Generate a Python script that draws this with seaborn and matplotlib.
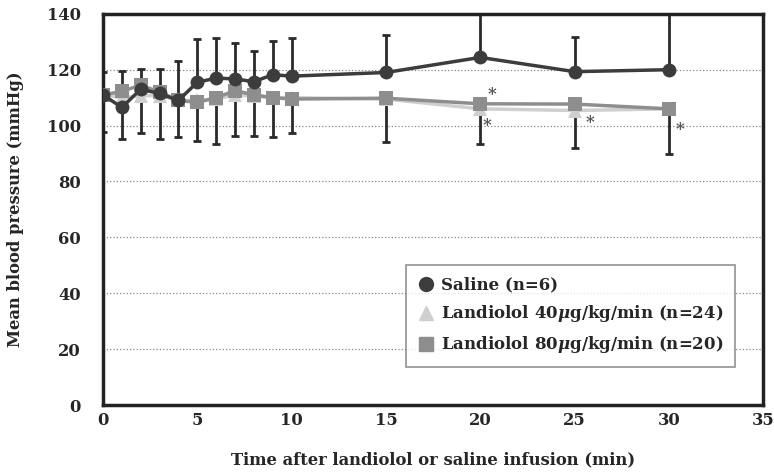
import pandas as pd
import matplotlib.pyplot as plt
import numpy as np
import seaborn as sns

times = [0, 1, 2, 3, 4, 5, 6, 7, 8, 9, 10, 15, 20, 25, 30]
saline = [111, 106.5, 113, 111.5, 109, 115.5, 117, 116.7, 115.7, 118.2, 117.7, 119, 124.4, 119.3, 120]
saline_sd = [8, 13.1, 7.2, 8.7, 14.2, 15.5, 14.5, 12.7, 11.1, 12.2, 13.6, 13.5, 19, 12.5, 21]
land40 = [111, 110, 110.7, 110.7, 109, 109, 109.5, 111, 110.5, 110, 110, 109.5, 106, 105.4, 106]
land80 = [111, 112.2, 114.5, 112, 109, 108.3, 110, 112.5, 111, 110, 109.5, 109.8, 107.8, 107.7, 106]
land80_low = [97.8, 95.3, 97.5, 95.2, 96, 94.5, 93.5, 96.2, 96.4, 95.8, 97.4, 94.3, 93.5, 91.9, 89.9]
star_x = [20.6, 20.35, 25.8, 30.6]
star_y = [111, 100, 101, 98.5]

names = ['Saline (n=6)',
         r'Landiolol 40$\mu$g/kg/min (n=24)',
         r'Landiolol 80$\mu$g/kg/min (n=20)']
colors = ['#3c3c3c', '#cfcfcf', '#8e8e8e']
markers = ['o', '^', 's']

df = pd.DataFrame({'time': times * 3,
                   'bp': saline + land40 + land80,
                   'group': [names[0]] * 15 + [names[1]] * 15 + [names[2]] * 15})

sns.set_style('white')
plt.rcParams['font.family'] = ['DejaVu Serif']
plt.rcParams['font.weight'] = 'bold'
plt.rcParams['mathtext.fontset'] = 'dejavuserif'

fig, ax = plt.subplots(figsize=(7.74, 4.76), dpi=100)
fig.subplots_adjust(left=0.133, right=0.986, top=0.971, bottom=0.149)

# one-sided error bars: saline up, landiolol down
low80 = np.array(land80) - np.array(land80_low)
ax.errorbar(times, saline, yerr=[np.zeros(15), saline_sd], fmt='none',
            ecolor='#2a2a2a', elinewidth=2, capsize=3, capthick=2, zorder=2)
ax.errorbar(times, land80, yerr=[low80, np.zeros(15)], fmt='none',
            ecolor='#2a2a2a', elinewidth=2, capsize=3, capthick=2, zorder=2)

for name, c, m in zip([names[1], names[2], names[0]], [colors[1], colors[2], colors[0]],
                      [markers[1], markers[2], markers[0]]):
    sns.lineplot(data=df[df.group == name], x='time', y='bp', ax=ax, color=c,
                 marker=m, markersize=10, markeredgewidth=0, linewidth=2.5,
                 label=name, zorder=3)

for x, y in zip(star_x, star_y):
    ax.text(x, y, '*', fontsize=12, color='#555555', ha='center', va='center')

ax.set_xlim(0, 35)
ax.set_ylim(0, 140)
ax.set_xticks(range(0, 36, 5))
ax.set_yticks(range(0, 141, 20))
ax.yaxis.grid(True, linestyle=':', color='#888888', linewidth=0.9)
ax.tick_params(direction='in', length=5, width=1.2, labelsize=11.8)
ax.tick_params(axis='x', pad=5)
ax.tick_params(axis='y', pad=16)
for s in ax.spines.values():
    s.set_linewidth(2.5)
    s.set_color('#222222')
ax.set_xlabel('Time after landiolol or saline infusion (min)', fontsize=11.8,
              fontweight='bold', labelpad=16)
ax.set_ylabel('Mean blood pressure (mmHg)', fontsize=11.8, fontweight='bold', labelpad=16)

handles = [plt.Line2D([], [], linestyle='none', marker=markers[i], color=colors[i],
                      markersize=10) for i in range(3)]
leg = ax.legend(handles, names, loc='lower right', bbox_to_anchor=(0.958, 0.097),
                borderaxespad=0, fontsize=12, frameon=True, fancybox=False,
                handletextpad=0.4, borderpad=0.7, labelspacing=0.6, handlelength=1.0)
leg.get_frame().set_edgecolor('#777777')
leg.get_frame().set_linewidth(1.2)
for t in leg.get_texts():
    t.set_fontweight('bold')

plt.savefig('out.png', dpi=100)
